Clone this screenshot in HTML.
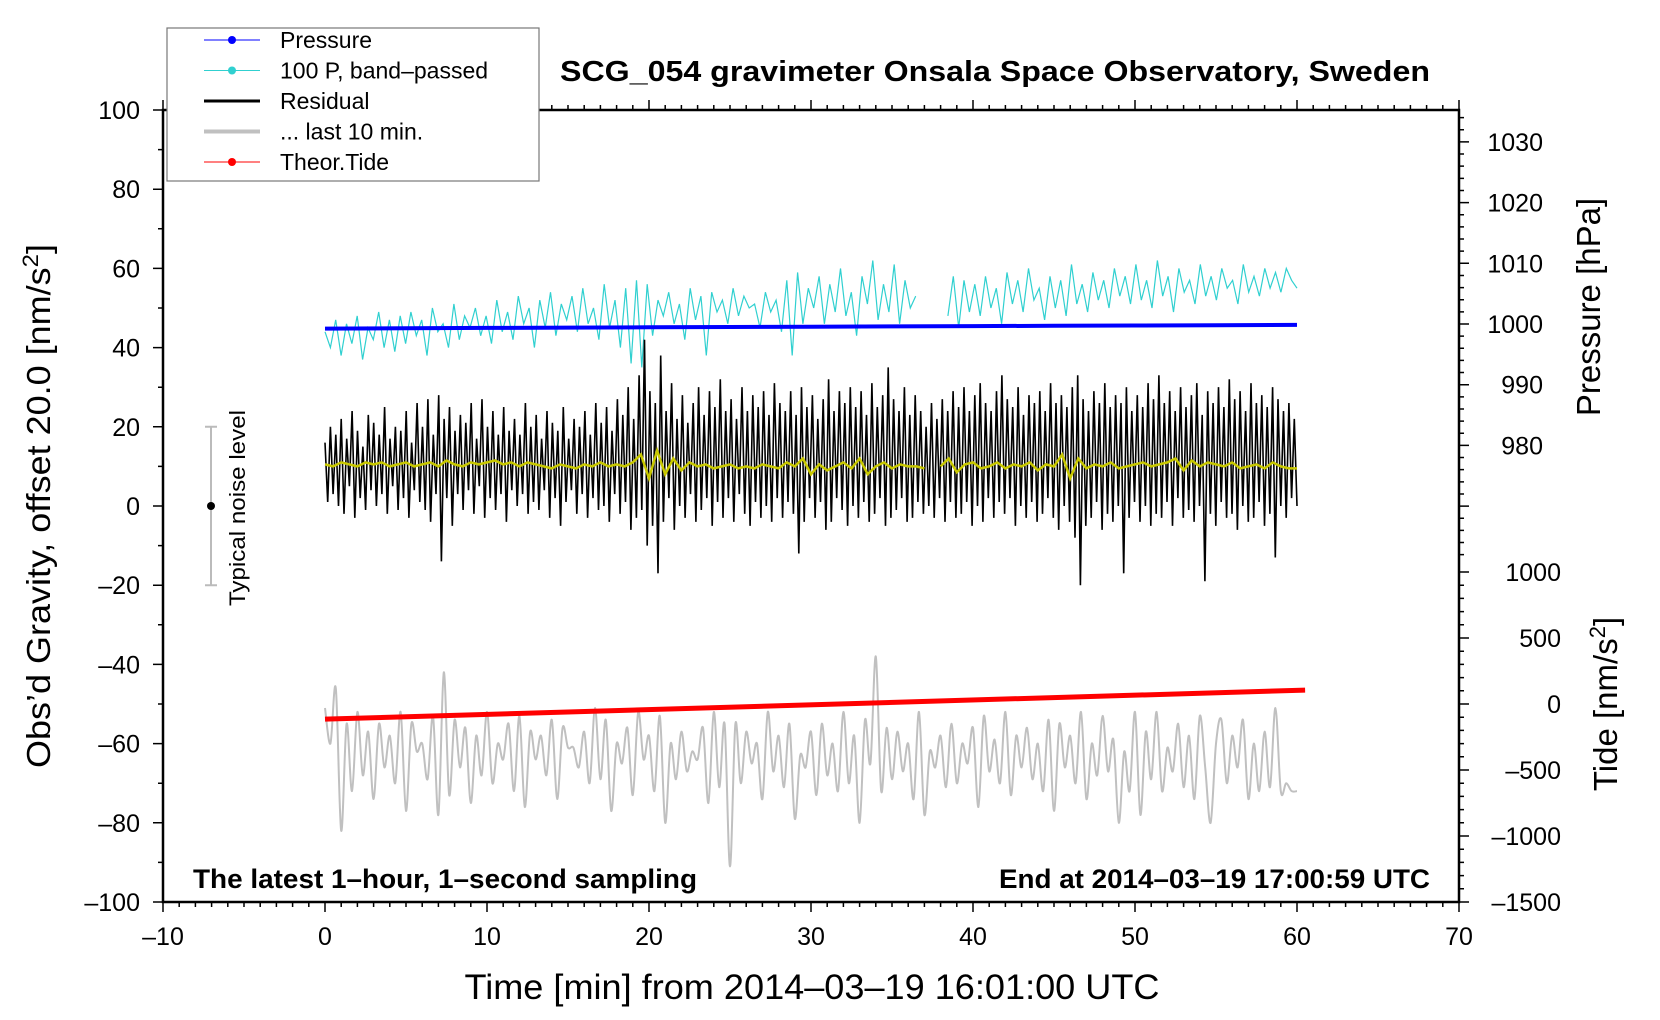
<!DOCTYPE html>
<html><head><meta charset="utf-8"><style>
html,body{margin:0;padding:0;background:#fff;}
svg{display:block;font-family:"Liberation Sans",sans-serif;}
</style></head><body>
<svg id="chart" width="1660" height="1020" viewBox="0 0 1660 1020" xmlns="http://www.w3.org/2000/svg"></svg>
<script>
// ---- data ----
const xTicks = [-10,0,10,20,30,40,50,60,70];
const yTicks = [-100,-80,-60,-40,-20,0,20,40,60,80,100];
const pTicks = [980,990,1000,1010,1020,1030];
const tTicks = [-1500,-1000,-500,0,500,1000];
const pressureVals = [999.25,999.3,999.35,999.4,999.45,999.5,999.55,999.6,999.65,999.7,999.75,999.8,999.85];
const tideStart = [0,-115];
const tideEnd = [60.5,105];
const residualVals = [
16,1,20,3,18,0, 22,-2,17,5,24,-3, 19,2,15,-1,23,4, 21,0,18,3,25,-2, 17,5,20,-1,19,2,
24,-3,16,4,26,1, 20,-1,27,-4,18,3, 28,-14,22,2,25,-5, 19,3,23,-1,21,4, 26,-2,17,5,27,-3,
20,2,24,-1,18,3, 25,-4,19,4,22,0, 18,3,26,-2,20,1, 23,-1,17,4,24,-3, 21,2,19,-5,25,1,
17,4,22,-2,20,3, 24,-3,18,2,26,-1, 21,0,25,-4,19,3, 27,-2,23,1,30,-6, 22,-3,33,-1,42,-10,
29,-5,26,-17,38,-4, 24,2,31,-6,22,0, 28,-3,21,3,26,-4, 30,-1,23,2,29,-5, 25,1,32,-3,24,2,
27,-4,22,3,30,-2, 24,-5,28,1,25,-3, 29,0,23,-4,31,2, 26,-3,24,1,29,-2, 23,-12,30,-4,25,2,
28,-3,22,1,27,-6, 32,-4,24,2,29,-1, 26,-5,30,0,25,-3, 29,1,23,-4,31,-2, 25,2,28,-5,35,-3,
27,-1,24,2,30,-4, 23,-3,28,1,24,-2, 20,0,26,-3,22,2, 27,-4,24,1,29,-3, 25,-2,30,1,24,-5,
28,0,31,-4,26,2, 24,-3,29,1,33,-2, 27,2,25,-5,30,0, 23,-3,28,1,26,-4, 29,-2,24,2,31,-3,
26,-6,28,0,25,-4, 30,-8,33,-20,27,-5, 24,-3,29,1,26,-6, 31,-2,25,-4,28,0, 26,-17,30,-3,24,1,
28,-4,25,0,31,-5, 27,-2,33,-3,26,1, 29,-5,24,2,30,-3, 25,-1,28,-4,31,0, 23,-19,29,-2,26,-5,
30,1,25,-3,32,-2, 27,-6,29,0,24,-4, 31,-3,26,1,28,-5, 25,-2,30,-13,27,0, 24,-3,26,2,22,0];
const smoothVals = [
10.5,10,11,10.5,10,11,10.5,11,10,10.5, 11,10,10.5,11,10,11.5,10.5,10,11,10.5,
11,11.5,10.5,11,10,11,10.5,10,9.5,10.5, 10,9.5,10.5,10,11,10,10.5,10,11,13,
7,14,8,12,9,11,10,10.5,9.5,10, 10.5,9.5,10,9.5,10.5,10,9.5,11,10,12,
8,10.5,9,10,11,9.5,12,8,10,11, 9.5,10.5,10,10,9.5,null,10,12,8.5,10.5,
11,9.5,10,11,9.5,10.5,10,11,9,10.5, 10,13,7,12,9.5,10.5,10,11,9.5,10,
10.5,11,10,10.5,11,12,9,11.5,10,11, 10.5,10,11,9.5,10,10.5,9.5,11,10,9.5,9.5];
const bandVals = [
44,40,47,38,46,41,48,37,45,42,49,40,47,39,48,
41,49,43,47,38,50,44,46,40,51,42,48,45,50,43,
48,41,52,44,49,42,53,46,50,40,52,45,54,43,51,
47,53,44,55,46,50,42,56,45,52,40,55,36,57,35,
56,43,52,48,54,46,51,42,55,47,53,38,54,49,52,
46,55,48,53,50,51,45,54,49,52,44,57,38,59,46,
55,50,58,46,56,49,60,48,54,43,58,51,62,47,56,
49,61,46,57,50,53, null,null,null,null,null, 48,58,45,57,49,
56,48,58,50,55,46,59,51,57,49,60,52,55,47,58,
50,57,48,61,51,56,49,59,52,57,50,60,53,58,51,
61,52,57,50,62,53,58,49,60,54,57,51,61,53,58,
52,60,55,57,51,61,54,58,53,60,55,59,54,60,57,55];
const last10Vals = [
-51,-60,-46,-82,-55,-72,-52,-68,-57,-74,-55,-66,-58,-70,-52,-77,-55,-62,-60,-69,
-53,-78,-42,-73,-54,-66,-56,-75,-58,-68,-52,-70,-60,-64,-55,-72,-53,-76,-57,-64,
-58,-68,-54,-74,-56,-61,-61,-66,-57,-70,-51,-69,-54,-77,-60,-65,-56,-73,-52,-64,
-58,-72,-53,-80,-60,-69,-57,-67,-62,-64,-56,-75,-52,-71,-55,-91,-55,-70,-57,-65,
-60,-74,-52,-67,-58,-71,-55,-79,-63,-66,-57,-73,-55,-68,-60,-72,-52,-70,-58,-80,
-54,-65,-38,-72,-56,-69,-57,-67,-60,-74,-52,-78,-62,-66,-58,-71,-55,-70,-60,-65,
-56,-76,-53,-67,-59,-70,-52,-73,-58,-66,-56,-69,-60,-72,-54,-77,-55,-66,-58,-70,
-52,-74,-60,-68,-53,-67,-59,-80,-62,-72,-52,-78,-57,-69,-52,-72,-61,-67,-55,-71,
-58,-74,-53,-66,-80,-60,-54,-70,-58,-66,-54,-74,-60,-72,-57,-71,-51,-72,-70,-72,-72];

// ---- geometry ----
const L=163,R=1459,T=110,B=902;
const X=v=>L+(v+10)/80*(R-L);
const Y=v=>B-(v+100)/200*(B-T);
const P=v=>324-(v-1000)*6.07;
const TD=v=>B-(v+1500)*0.132;
const svg=document.getElementById('chart');
const NS='http://www.w3.org/2000/svg';
function mk(tag,attrs,parent){const e=document.createElementNS(NS,tag);for(const k in attrs)e.setAttribute(k,attrs[k]);(parent||svg).appendChild(e);return e;}
function txt(s,attrs,parent){const e=mk('text',attrs,parent);e.textContent=s;return e;}
function series(vals,x0,x1,yf){let d='',pen=false;const n=vals.length;
  vals.forEach((v,i)=>{if(v===null){pen=false;return;}const x=X(x0+(x1-x0)*i/(n-1));d+=(pen?'L':'M')+x.toFixed(1)+' '+yf(v).toFixed(1);pen=true;});return d;}
function smoothSeries(vals,x0,x1,yf){const n=vals.length;const pts=vals.map((v,i)=>[X(x0+(x1-x0)*i/(n-1)),yf(v)]);
  let d='M'+pts[0][0].toFixed(1)+' '+pts[0][1].toFixed(1);
  for(let i=0;i<n-1;i++){const p0=pts[Math.max(0,i-1)],p1=pts[i],p2=pts[i+1],p3=pts[Math.min(n-1,i+2)];
    const c1=[p1[0]+(p2[0]-p0[0])/6,p1[1]+(p2[1]-p0[1])/6],c2=[p2[0]-(p3[0]-p1[0])/6,p2[1]-(p3[1]-p1[1])/6];
    d+=`C${c1[0].toFixed(1)} ${c1[1].toFixed(1)} ${c2[0].toFixed(1)} ${c2[1].toFixed(1)} ${p2[0].toFixed(1)} ${p2[1].toFixed(1)}`;}
  return d;}

// data series
let g=mk('g',{});


let e;
e=mk('path',{d:smoothSeries(last10Vals,0,60,Y),fill:'none',stroke:'#c0c0c0','stroke-width':2},g);


e=mk('path',{d:'M'+X(tideStart[0])+' '+TD(tideStart[1])+'L'+X(tideEnd[0])+' '+TD(tideEnd[1]),stroke:'#ff0000','stroke-width':5},g);


e=mk('path',{d:series(bandVals,0,60,Y),fill:'none',stroke:'#30d0d0','stroke-width':1.2},g);


e=mk('path',{d:series(pressureVals,0,60,P),fill:'none',stroke:'#0000ff','stroke-width':4},g);


e=mk('path',{d:series(residualVals,0,60,Y),fill:'none',stroke:'#000','stroke-width':1.6},g);


e=mk('path',{d:series(smoothVals,0,60,Y),fill:'none',stroke:'#c8c800','stroke-width':2.5},g);



// frame
e=mk('rect',{x:L,y:T,width:R-L,height:B-T,fill:'none',stroke:'#000','stroke-width':2.5});



// ticks
let tk='';
for(let v=-10;v<=70;v++){const x=X(v),len=(v%10===0)?10:5;tk+=`M${x} ${B}L${x} ${B+len}M${x} ${T}L${x} ${T-len}`;}
for(let v=-100;v<=100;v+=10){const y=Y(v),len=(v%20===0)?10:5;tk+=`M${L} ${y}L${L-len} ${y}`;}
for(let v=962;v<=1034;v+=2){const y=P(v),len=(v%10===0)?10:5;tk+=`M${R} ${y}L${R+len} ${y}`;}
for(let v=-1500;v<=1000;v+=100){const y=TD(v),len=(v%500===0)?10:5;tk+=`M${R} ${y}L${R+len} ${y}`;}
e=mk('path',{d:tk,stroke:'#000','stroke-width':1.5,fill:'none'});



const fmt=v=>String(v).replace('-','\u2013');
xTicks.forEach(v=>{const t=txt(fmt(v),{x:X(v),y:945,'font-size':25,'text-anchor':'middle'});

});
yTicks.forEach(v=>{const t=txt(fmt(v),{x:140,y:Y(v)+9,'font-size':25,'text-anchor':'end'});

});
pTicks.forEach(v=>{const t=txt(fmt(v),{x:1543,y:P(v)+9,'font-size':25,'text-anchor':'end'});

});
tTicks.forEach(v=>{const t=txt(fmt(v),{x:1561,y:TD(v)+9,'font-size':25,'text-anchor':'end'});

});

// titles
e=txt('SCG_054 gravimeter Onsala Space Observatory, Sweden',{x:995,y:81,'font-size':29,'font-weight':'bold','text-anchor':'middle',textLength:870,lengthAdjust:'spacingAndGlyphs'});


e=txt('Time [min] from 2014\u201303\u201319 16:01:00 UTC',{x:812,y:999,'font-size':35,'text-anchor':'middle',textLength:695,lengthAdjust:'spacingAndGlyphs'});


e=mk('text',{transform:'translate(50,506) rotate(-90)','font-size':33,'text-anchor':'middle',textLength:524,lengthAdjust:'spacingAndGlyphs'});
e.innerHTML='Obs\u2019d Gravity, offset 20.0 [nm/s<tspan dy="-12" font-size="22">2</tspan><tspan dy="12">]</tspan>';


e=txt('Pressure [hPa]',{transform:'translate(1600,307) rotate(-90)','font-size':33,'text-anchor':'middle'});


e=mk('text',{transform:'translate(1617,704) rotate(-90)','font-size':33,'text-anchor':'middle'});
e.innerHTML='Tide [nm/s<tspan dy="-12" font-size="22">2</tspan><tspan dy="12">]</tspan>';


e=txt('The latest 1\u2013hour, 1\u2013second sampling',{x:193,y:888,'font-size':27,'font-weight':'bold',textLength:504,lengthAdjust:'spacingAndGlyphs'});


e=txt('End at 2014\u201303\u201319 17:00:59 UTC',{x:1430,y:888,'font-size':27,'font-weight':'bold','text-anchor':'end',textLength:431,lengthAdjust:'spacingAndGlyphs'});



// noise bar
e=mk('path',{d:`M211 ${Y(20)}L211 ${Y(-20)}M205 ${Y(20)}L217 ${Y(20)}M205 ${Y(-20)}L217 ${Y(-20)}`,stroke:'#bbb','stroke-width':2});


e=mk('circle',{cx:211,cy:Y(0),r:4,fill:'#000'});


e=txt('Typical noise level',{transform:`translate(245,${Y(0)+2}) rotate(-90)`,'font-size':22,'text-anchor':'middle',textLength:196,lengthAdjust:'spacingAndGlyphs'});



// legend
const lg=mk('g',{});


e=mk('rect',{x:167,y:28,width:372,height:153,fill:'#fff',stroke:'#777','stroke-width':1.2},lg);


const legItems=[['Pressure','#0000ff',1,true],['100 P, band\u2013passed','#30d0d0',1,true],['Residual','#000',3,false],['... last 10 min.','#c0c0c0',4,false],['Theor.Tide','#ff0000',1,true]];
legItems.forEach((it,i)=>{const y=40+i*30.5;
  const ln=mk('line',{x1:204,x2:260,y1:y,y2:y,stroke:it[1],'stroke-width':it[2]},lg);
  
  
  if(it[3]){const c=mk('circle',{cx:232,cy:y,r:4,fill:it[1]},lg);
    
    }
  const t=txt(it[0],{x:280,y:y+8,'font-size':23},lg);
  
  
});
</script>
</body></html>
